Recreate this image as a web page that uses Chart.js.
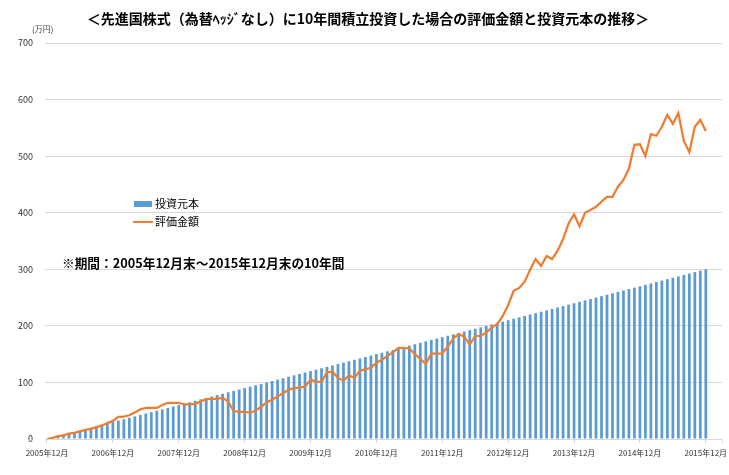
<!DOCTYPE html>
<html><head><meta charset="utf-8">
<script src="https://cdn.jsdelivr.net/npm/chart.js@4.4.1/dist/chart.umd.min.js"></script>
<style>html,body{margin:0;padding:0;background:#fff}#wrap{width:729px;height:475px;position:relative}canvas{display:block}</style>
</head><body><div id="wrap"><canvas id="c" width="729" height="475" style="width:729px;height:475px"></canvas></div>
<script>
const categories = [
'2005年12月','2006年1月','2006年2月','2006年3月','2006年4月','2006年5月','2006年6月','2006年7月','2006年8月','2006年9月','2006年10月','2006年11月','2006年12月',
'2007年1月','2007年2月','2007年3月','2007年4月','2007年5月','2007年6月','2007年7月','2007年8月','2007年9月','2007年10月','2007年11月','2007年12月',
'2008年1月','2008年2月','2008年3月','2008年4月','2008年5月','2008年6月','2008年7月','2008年8月','2008年9月','2008年10月','2008年11月','2008年12月',
'2009年1月','2009年2月','2009年3月','2009年4月','2009年5月','2009年6月','2009年7月','2009年8月','2009年9月','2009年10月','2009年11月','2009年12月',
'2010年1月','2010年2月','2010年3月','2010年4月','2010年5月','2010年6月','2010年7月','2010年8月','2010年9月','2010年10月','2010年11月','2010年12月',
'2011年1月','2011年2月','2011年3月','2011年4月','2011年5月','2011年6月','2011年7月','2011年8月','2011年9月','2011年10月','2011年11月','2011年12月',
'2012年1月','2012年2月','2012年3月','2012年4月','2012年5月','2012年6月','2012年7月','2012年8月','2012年9月','2012年10月','2012年11月','2012年12月',
'2013年1月','2013年2月','2013年3月','2013年4月','2013年5月','2013年6月','2013年7月','2013年8月','2013年9月','2013年10月','2013年11月','2013年12月',
'2014年1月','2014年2月','2014年3月','2014年4月','2014年5月','2014年6月','2014年7月','2014年8月','2014年9月','2014年10月','2014年11月','2014年12月',
'2015年1月','2015年2月','2015年3月','2015年4月','2015年5月','2015年6月','2015年7月','2015年8月','2015年9月','2015年10月','2015年11月','2015年12月'
];
const principal = [
0,2.5,5,7.5,10,12.5,15,17.5,20,22.5,25,27.5,30,
32.5,35,37.5,40,42.5,45,47.5,50,52.5,55,57.5,60,
62.5,65,67.5,70,72.5,75,77.5,80,82.5,85,87.5,90,
92.5,95,97.5,100,102.5,105,107.5,110,112.5,115,117.5,120,
122.5,125,127.5,130,132.5,135,137.5,140,142.5,145,147.5,150,
152.5,155,157.5,160,162.5,165,167.5,170,172.5,175,177.5,180,
182.5,185,187.5,190,192.5,195,197.5,200,202.5,205,207.5,210,
212.5,215,217.5,220,222.5,225,227.5,230,232.5,235,237.5,240,
242.5,245,247.5,250,252.5,255,257.5,260,262.5,265,267.5,270,
272.5,275,277.5,280,282.5,285,287.5,290,292.5,295,297.5,300
];
const valuation = [
0,2,5,6.5,9.5,11,13.5,16,18,21,24,28,32,
39,39.5,42,47,52.5,55,55,55,60,64,64,64,
61,61,62,66.5,70.5,71,71,73,66,49.5,48,48,
46.5,50,57,65,69.5,75,81,87,90,91,92.5,105,
101,101,118,119,108,103,112.5,108,121,123,126,135,
140,147,153,161,161,160,150,141.5,132.5,151,151,151.5,
163,178,185.5,181,167,182,182.5,188,197,203,217,237,
262,267,278,299,318,306,323.5,318,333,353,381,397,
376,400,405,410.5,419.5,428,428,446,458,478,520,521,
500,539,536,552,573,557,576,527,507,552,564,544.5
];
const tickLabels = ['2005年12月','2006年12月','2007年12月','2008年12月','2009年12月','2010年12月','2011年12月','2012年12月','2013年12月','2014年12月','2015年12月'];
const yTicks = [0,100,200,300,400,500,600,700];
const seriesNames = ['投資元本','評価金額'];
const titleText = '＜先進国株式（為替ﾍｯｼﾞなし）に10年間積立投資した場合の評価金額と投資元本の推移＞';
const unitText = '(万円)';
const noteText = '※期間：2005年12月末～2015年12月末の10年間';

const BLUE = '#5B9BD5', ORANGE = '#ED7D31';
const FONT = "'Noto Sans CJK JP', 'Noto Sans', sans-serif";
const X_MIN = -0.364, X_MAX = 122.95;

const tickIdx = tickLabels.map(l => categories.indexOf(l));

const textPlugin = {
  id: 'texts',
  afterDraw(chart) {
    const ctx = chart.ctx;
    ctx.save();
    ctx.fillStyle = '#000';
    ctx.textBaseline = 'middle';
    ctx.textAlign = 'center';
    ctx.font = "bold 14px " + FONT;
    ctx.fillText(titleText, 368, 19);
    ctx.textAlign = 'left';
    ctx.fillStyle = '#404040';
    ctx.font = "8px " + FONT;
    ctx.fillText(unitText, 32, 29);
    ctx.fillStyle = '#000';
    ctx.font = "bold 12.7px " + FONT;
    ctx.fillText(noteText, 62, 263);
    const ds = chart.data.datasets;
    ctx.font = "11px " + FONT;
    ctx.fillStyle = ds[1].backgroundColor;
    ctx.fillRect(134, 201, 18, 6);
    ctx.fillStyle = '#000';
    ctx.fillText(ds[1].label, 155, 204);
    ctx.strokeStyle = ds[0].borderColor;
    ctx.lineWidth = 2;
    ctx.beginPath(); ctx.moveTo(133, 222); ctx.lineTo(153, 222); ctx.stroke();
    ctx.fillText(ds[0].label, 155, 222);
    ctx.restore();
  }
};

new Chart(document.getElementById('c'), {
  type: 'bar',
  data: {
    datasets: [
      { type: 'line', label: seriesNames[1], data: valuation.map((v, i) => ({x: i, y: v})),
        borderColor: ORANGE, backgroundColor: ORANGE, borderWidth: 2.25, pointRadius: 0, tension: 0, order: 0 },
      { type: 'bar', label: seriesNames[0], data: principal.map((v, i) => ({x: i, y: v})),
        backgroundColor: BLUE, borderWidth: 0, barPercentage: 0.5, categoryPercentage: 1, order: 1 }
    ]
  },
  options: {
    responsive: false,
    animation: false,
    devicePixelRatio: 1,
    layout: { padding: { left: 0, right: 7, top: 43, bottom: 0 } },
    plugins: { legend: { display: false }, title: { display: false }, tooltip: { enabled: false } },
    scales: {
      x: {
        type: 'linear', min: X_MIN, max: X_MAX, offset: false,
        afterBuildTicks(s) { s.ticks = tickIdx.map(v => ({value: v})).concat([{value: X_MAX}]); },
        afterFit(s) { s.height = 36; },
        ticks: { autoSkip: false, maxRotation: 0, minRotation: 0, padding: 5, color: '#333',
          font: { size: 8, family: FONT },
          callback(v) { const k = tickIdx.indexOf(v); return k >= 0 ? tickLabels[k] : ''; } },
        grid: { offset: false, drawOnChartArea: false, drawTicks: true, tickLength: 4, color: '#D9D9D9' },
        border: { display: true, color: '#D9D9D9' }
      },
      y: {
        min: 0, max: 700,
        afterBuildTicks(s) { s.ticks = yTicks.map(v => ({value: v})); },
        afterFit(s) { s.width = 45; },
        ticks: { padding: 12, color: '#333', font: { size: 9, family: FONT } },
        grid: { color: '#D9D9D9', lineWidth: 1, drawTicks: false },
        border: { display: false }
      }
    }
  },
  plugins: [textPlugin]
});
</script>
</body></html>
